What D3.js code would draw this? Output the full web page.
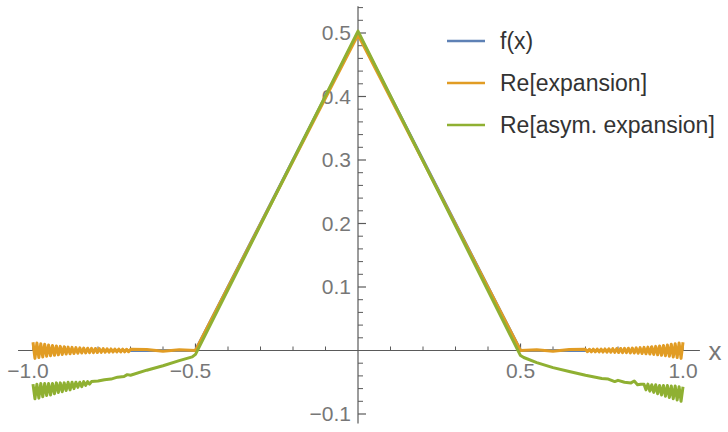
<!DOCTYPE html>
<html>
<head>
<meta charset="utf-8">
<script src="https://cdn.jsdelivr.net/npm/d3@7"></script>
<style>
  body { margin: 0; background: #fff; }
  svg { font-family: "Liberation Sans", Arial, sans-serif; }
</style>
</head>
<body>
<svg id="chart" width="728" height="432"></svg>
<script>
const svg = d3.select("#chart"); // the drawing area

// ---- data ----
const seriesNames = ["f(x)", "Re[expansion]", "Re[asym. expansion]"];
const seriesColors = ["#5E81B5", "#E19C24", "#8FB032"];

const xMajorTicks = [-1.0, -0.5, 0.5, 1.0];
const xTickLabels = ["\u22121.0", "\u22120.5", "0.5", "1.0"];
const yMajorTicks = [-0.1, 0.1, 0.2, 0.3, 0.4, 0.5];
const yTickLabels = ["\u22120.1", "0.1", "0.2", "0.3", "0.4", "0.5"];

// f(x): the triangle
const fxPoints = [[-1.0, 0], [-0.5, 0], [0, 0.5], [0.5, 0], [1.0, 0]];

// oscillating tails are sampled every 0.006 in x
const tailStep = 0.006;

// Re[expansion], left tail from x = -1.0 (oscillation dies out)
const expLeftTail = [
  0.0130, -0.0124, 0.0118, -0.0112, 0.0107, -0.0102, 0.0097, -0.0092, 0.0088, -0.0084,
  0.0080, -0.0076, 0.0072, -0.0068, 0.0065, -0.0062, 0.0059, -0.0056, 0.0053, -0.0051,
  0.0049, -0.0047, 0.0045, -0.0043, 0.0041, -0.0040, 0.0038, -0.0037, 0.0036, -0.0035,
  0.0034, -0.0033, 0.0032, -0.0031, 0.0030, -0.0029, 0.0029, -0.0028, 0.0027, -0.0026,
  0.0025, -0.0025, 0.0024, -0.0023, 0.0023, -0.0022, 0.0021, -0.0021, 0.0020, -0.0019,
  0.0018
];
// Re[expansion], middle part
const expMiddle = [
  [-0.65, 0.0015], [-0.60, -0.0012], [-0.55, 0.0010], [-0.50, 0.0],
  [0, 0.497],
  [0.50, 0.0], [0.55, 0.0010], [0.60, -0.0012], [0.65, 0.0015]
];
// Re[expansion], right tail from x = 0.70 to 1.0 (oscillation grows)
const expRightTail = [
  0.0018, -0.0019, 0.0020, -0.0021, 0.0021, -0.0022, 0.0023, -0.0023, 0.0024, -0.0025,
  0.0025, -0.0026, 0.0027, -0.0028, 0.0029, -0.0029, 0.0030, -0.0031, 0.0032, -0.0033,
  0.0034, -0.0035, 0.0036, -0.0037, 0.0038, -0.0040, 0.0041, -0.0043, 0.0045, -0.0047,
  0.0049, -0.0051, 0.0053, -0.0056, 0.0059, -0.0062, 0.0065, -0.0068, 0.0072, -0.0076,
  0.0080, -0.0084, 0.0088, -0.0092, 0.0097, -0.0102, 0.0107, -0.0112, 0.0118, -0.0124,
  0.0130
];

// Re[asym. expansion], left tail from x = -1.0 to -0.82
const asymLeftTail = [
  -0.053, -0.076, -0.053, -0.075, -0.052, -0.073, -0.052, -0.071, -0.052, -0.070,
  -0.052, -0.068, -0.051, -0.066, -0.051, -0.065, -0.051, -0.063, -0.050, -0.062,
  -0.050, -0.060, -0.050, -0.058, -0.050, -0.057, -0.049, -0.055, -0.049, -0.053,
  -0.049
];
// Re[asym. expansion], middle part
const asymMiddle = [
  [-0.80, -0.048], [-0.78, -0.046], [-0.76, -0.045], [-0.74, -0.042], [-0.72, -0.041],
  [-0.71, -0.038], [-0.70, -0.039], [-0.65, -0.031], [-0.60, -0.024], [-0.55, -0.016],
  [-0.51, -0.010], [-0.50, -0.006],
  [0, 0.503],
  [0.50, -0.008], [0.51, -0.011], [0.55, -0.019], [0.60, -0.027], [0.65, -0.033],
  [0.70, -0.039], [0.75, -0.044], [0.77, -0.045], [0.79, -0.049], [0.80, -0.047],
  [0.82, -0.050], [0.84, -0.051], [0.85, -0.048], [0.86, -0.054], [0.87, -0.053]
];
// Re[asym. expansion], right tail from x = 0.88 to 1.0
const asymRightTail = [
  -0.053, -0.062, -0.053, -0.064, -0.054, -0.066, -0.054, -0.068, -0.055, -0.070,
  -0.055, -0.072, -0.055, -0.074, -0.056, -0.076, -0.056, -0.078, -0.057, -0.080,
  -0.057
];

// ---- build point lists ----
const tailPoints = (start, values) => values.map((v, i) => [start + i * tailStep, v]);

const seriesData = [
  fxPoints,
  [...tailPoints(-1.0, expLeftTail), ...expMiddle, ...tailPoints(0.70, expRightTail)],
  [...tailPoints(-1.0, asymLeftTail), ...asymMiddle, ...tailPoints(0.88, asymRightTail)]
];

// ---- scales ----
const x = d3.scaleLinear().domain([-1, 1]).range([33, 683]);
const y = d3.scaleLinear().domain([-0.1, 0.5]).range([414, 33]);

const axisColor = "#5a5a5a";
const labelColor = "#777";

// x axis line
svg.append("line")
    .attr("x1", x(-1.046)).attr("x2", x(1.052))
    .attr("y1", y(0)).attr("y2", y(0))
    .attr("stroke", axisColor).attr("stroke-width", 1.2);

// y axis line
svg.append("line")
    .attr("x1", x(0)).attr("x2", x(0))
    .attr("y1", y(0.542)).attr("y2", y(-0.115))
    .attr("stroke", axisColor).attr("stroke-width", 1.2);

// x minor ticks (0.1 steps), pointing up
const xMinor = d3.range(-10, 11).map(i => i / 10).filter(v => v !== 0 && Math.abs(v) !== 0.5 && Math.abs(v) !== 1);
svg.selectAll(".xminor").data(xMinor).enter().append("line")
    .attr("x1", d => x(d)).attr("x2", d => x(d))
    .attr("y1", y(0)).attr("y2", y(0) - 4)
    .attr("stroke", axisColor).attr("stroke-width", 1);
svg.selectAll(".xmajor").data(xMajorTicks).enter().append("line")
    .attr("x1", d => x(d)).attr("x2", d => x(d))
    .attr("y1", y(0)).attr("y2", y(0) - 7)
    .attr("stroke", axisColor).attr("stroke-width", 1.2);
svg.selectAll(".xlabel").data(xMajorTicks).enter().append("text")
    .attr("x", (d, i) => x(d) - (d < 0 ? 5 : 0))
    .attr("y", y(0) + 27)
    .attr("text-anchor", "middle")
    .attr("font-size", 21)
    .attr("fill", labelColor)
    .text((d, i) => xTickLabels[i]);

// y minor ticks (0.02 steps), pointing right
const yMinor = d3.range(-5, 28).map(i => i / 50).filter(v => Math.abs(Math.round(v * 10) - v * 10) > 1e-6);
svg.selectAll(".yminor").data(yMinor).enter().append("line")
    .attr("x1", x(0)).attr("x2", x(0) + 5)
    .attr("y1", d => y(d)).attr("y2", d => y(d))
    .attr("stroke", axisColor).attr("stroke-width", 1);
svg.selectAll(".ymajor").data(yMajorTicks).enter().append("line")
    .attr("x1", x(0)).attr("x2", x(0) + 8)
    .attr("y1", d => y(d)).attr("y2", d => y(d))
    .attr("stroke", axisColor).attr("stroke-width", 1.2);
svg.selectAll(".ylabel").data(yMajorTicks).enter().append("text")
    .attr("x", x(0) - 7)
    .attr("y", d => y(d) + 7)
    .attr("text-anchor", "end")
    .attr("font-size", 21)
    .attr("fill", labelColor)
    .text((d, i) => yTickLabels[i]);

// axis name
svg.append("text")
    .attr("x", 715).attr("y", y(0) + 9)
    .attr("text-anchor", "middle")
    .attr("font-size", 26)
    .attr("fill", labelColor)
    .text("x");

// ---- curves ----
const line = d3.line().x(d => x(d[0])).y(d => y(d[1]));
svg.selectAll(".curve").data(seriesData).enter().append("path")
    .attr("d", d => line(d))
    .attr("fill", "none")
    .attr("stroke", (d, i) => seriesColors[i])
    .attr("stroke-width", 3)
    .attr("stroke-linejoin", "round");

// ---- legend ----
const legend = svg.append("g");
seriesNames.forEach((name, i) => {
    const cy = 41 + i * 42;
    legend.append("line")
        .attr("x1", 447).attr("x2", 485)
        .attr("y1", cy).attr("y2", cy)
        .attr("stroke", seriesColors[i]).attr("stroke-width", 2.5);
    legend.append("text")
        .attr("x", 500).attr("y", cy + 8)
        .attr("font-size", 23)
        .attr("fill", "#333")
        .text(name);
});
</script>
</body>
</html>
